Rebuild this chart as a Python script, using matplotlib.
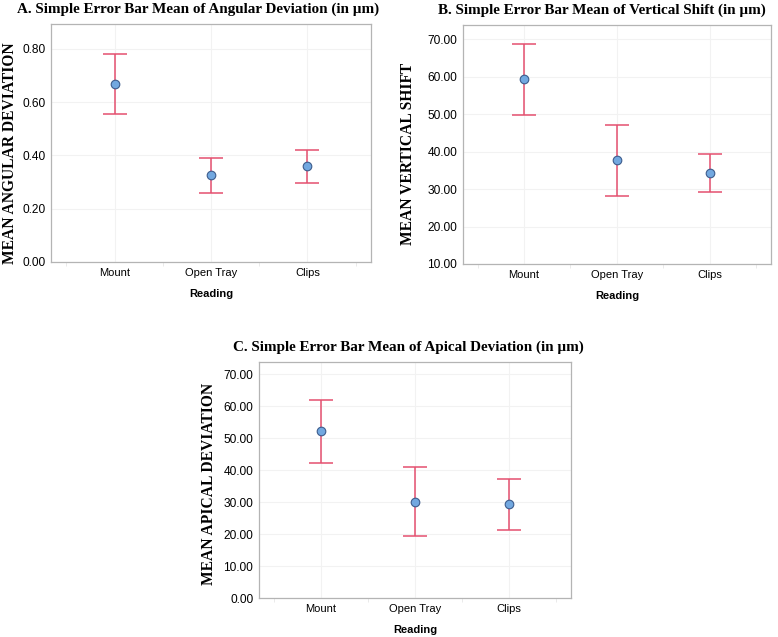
import matplotlib
matplotlib.use("Agg")
import matplotlib.pyplot as plt
import numpy as np

categories = ["Mount", "Open Tray", "Clips"]

# Panel A: angular deviation
ang_mean = [0.668, 0.325, 0.360]
ang_low = [0.554, 0.258, 0.297]
ang_high = [0.780, 0.392, 0.421]

# Panel B: vertical shift
vert_mean = [59.3, 37.7, 34.3]
vert_low = [49.8, 28.2, 29.2]
vert_high = [68.8, 47.2, 39.3]

# Panel C: apical deviation
apic_mean = [52.2, 30.2, 29.5]
apic_low = [42.4, 19.4, 21.5]
apic_high = [61.9, 41.0, 37.4]

ang_ticks = [0.0, 0.2, 0.4, 0.6, 0.8]
vert_ticks = [10, 20, 30, 40, 50, 60, 70]
apic_ticks = [0, 10, 20, 30, 40, 50, 60, 70]

bar_color = "#e4506f"
dot_face = "#72a8e0"
dot_edge = "#3d5c8c"
serif = ["Liberation Serif", "DejaVu Serif"]
sans = ["Liberation Sans", "DejaVu Sans"]


def draw_panel(ax, mean, low, high, ticks, ylim, title, ylabel, title_x):
    x = np.arange(1, len(categories) + 1)
    mean = np.array(mean)
    err = [mean - np.array(low), np.array(high) - mean]
    ax.errorbar(x, mean, yerr=err, fmt="none", ecolor=bar_color,
                elinewidth=1.1, capsize=8.6, capthick=1.1, zorder=2)
    ax.plot(x, mean, "o", ms=6.2, mfc=dot_face, mec=dot_edge, mew=0.8, zorder=3)

    ax.set_xlim(0.34, 3.66)
    ax.set_ylim(*ylim)
    ax.set_yticks(ticks)
    ax.set_yticklabels(["%.2f" % t for t in ticks], family=sans, fontsize=8.6)
    ax.set_xticks(x)
    ax.set_xticklabels(categories, family=sans, fontsize=8)
    ax.set_xticks([0.5, 1.5, 2.5, 3.5], minor=True)
    ax.tick_params(axis="both", which="major", length=0, pad=4)
    ax.tick_params(axis="x", which="minor", length=3, color="#e6e6e6")

    ax.grid(True, which="major", color="#f2f2f2", linewidth=0.8)
    ax.set_axisbelow(True)
    for s in ax.spines.values():
        s.set_color("#b4b4b4")
        s.set_linewidth(0.9)

    ax.set_xlabel("Reading", family=sans, fontsize=8, fontweight="bold", labelpad=8)
    ax.set_ylabel(ylabel, family=serif, fontsize=11.2, fontweight="bold")
    ax.set_title(title, family=serif, fontsize=10.9, fontweight="bold", x=title_x, pad=8)


fig = plt.figure(figsize=(7.78, 6.37), dpi=100)

axA = fig.add_axes([0.0656, 0.5887, 0.4113, 0.3736])
draw_panel(axA, ang_mean, ang_low, ang_high, ang_ticks, (0, 0.893),
           "A. Simple Error Bar Mean of Angular Deviation (in \u00b5m)",
           "MEAN ANGULAR DEVIATION", 0.46)
axA.yaxis.set_label_coords(-0.104, 0.456)

axB = fig.add_axes([0.5947, 0.5856, 0.3963, 0.3752])
draw_panel(axB, vert_mean, vert_low, vert_high, vert_ticks, (10, 73.8),
           "B. Simple Error Bar Mean of Vertical Shift (in \u00b5m)",
           "MEAN VERTICAL SHIFT", 0.45)
axB.yaxis.set_label_coords(-0.15, 0.46)

axC = fig.add_axes([0.3325, 0.0608, 0.4014, 0.3714])
draw_panel(axC, apic_mean, apic_low, apic_high, apic_ticks, (0, 74.0),
           "C. Simple Error Bar Mean of Apical Deviation (in \u00b5m)",
           "MEAN APICAL DEVIATION", 0.48)
axC.yaxis.set_label_coords(-0.133, 0.483)

fig.savefig("out.png", dpi=100, facecolor="white")
